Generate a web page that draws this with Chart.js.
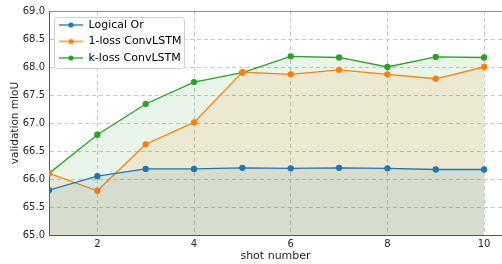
<!DOCTYPE html>
<html>
<head>
<meta charset="utf-8">
<script src="https://cdn.jsdelivr.net/npm/chart.js@4/dist/chart.umd.min.js"></script>
<style>
  html, body { margin: 0; padding: 0; background: #fff; }
  #chart { display: block; }
</style>
</head>
<body>
<canvas id="chart" width="502" height="264"></canvas>
<script>
const shots = [1, 2, 3, 4, 5, 6, 7, 8, 9, 10]
const logicalOr = [65.80, 66.05, 66.18, 66.18, 66.20, 66.19, 66.20, 66.19, 66.17, 66.17]
const oneLoss = [66.10, 65.79, 66.62, 67.01, 67.91, 67.87, 67.95, 67.87, 67.79, 68.00]
const kLoss = [66.10, 66.79, 67.34, 67.73, 67.90, 68.19, 68.17, 68.00, 68.18, 68.17]
const xTicks = [2, 4, 6, 8, 10]

const FONT = "'DejaVu Sans', sans-serif"
const LEGEND_FONT = 11
const LEGEND_PAD = 5.5

// line + dot sample for the legend, like matplotlib's
const makeLegendIcon = (color) => {
    const c = document.createElement("canvas")
    c.width = 24
    c.height = 8
    const g = c.getContext("2d")
    g.strokeStyle = color
    g.lineWidth = 1.3
    g.beginPath()
    g.moveTo(0, 4)
    g.lineTo(24, 4)
    g.stroke()
    g.fillStyle = color
    g.beginPath()
    g.arc(12, 4, 2.6, 0, Math.PI * 2)
    g.fill()
    return c
}

const series = [
    { label: "Logical Or", data: logicalOr, color: "#1f77b4", fill: "rgba(31,119,180,0.1)" },
    { label: "1-loss ConvLSTM", data: oneLoss, color: "#ff7f0e", fill: "rgba(255,127,14,0.1)" },
    { label: "k-loss ConvLSTM", data: kLoss, color: "#2ca02c", fill: "rgba(44,160,44,0.1)" }
]
const legendIcons = series.map(s => makeLegendIcon(s.color))

// move legend inside the axes and put a rounded frame behind it
const legendFrame = {
    id: "legendFrame",
    afterLayout(chart) {
        const lg = chart.legend
        if (!lg) return
        lg.left += 4.5
        lg.top += 14
        if (!lg._framed) {
            const orig = lg.draw.bind(lg)
            lg.draw = function () {
                const g = chart.ctx
                g.save()
                g.font = LEGEND_FONT + "px " + FONT
                const maxW = Math.max(...series.map(s => g.measureText(s.label).width))
                const x0 = this.left + LEGEND_PAD
                const y0 = this.top + LEGEND_PAD
                const n = series.length
                const left = x0 - 5
                const top = y0 - 3
                const right = x0 + 24 + LEGEND_FONT / 2 + maxW + 3
                const bottom = y0 + n * LEGEND_FONT + (n - 1) * LEGEND_PAD + 4
                g.fillStyle = "rgba(255,255,255,0.85)"
                g.strokeStyle = "#d0d0d0"
                g.lineWidth = 1
                g.beginPath()
                g.roundRect(Math.round(left) + 0.5, Math.round(top) + 0.5, Math.round(right - left), Math.round(bottom - top), 3)
                g.fill()
                g.stroke()
                g.restore()
                orig()
            }
            lg._framed = true
        }
    }
}

new Chart(document.getElementById("chart"), {
    type: "line",
    data: {
        datasets: series.map(s => ({
            label: s.label,
            data: shots.map((x, i) => ({ x, y: s.data[i] })),
            borderColor: s.color,
            backgroundColor: s.fill,
            pointBackgroundColor: s.color,
            pointBorderColor: s.color,
            pointRadius: 2.5,
            pointStyle: "circle",
            borderWidth: 1.3,
            fill: "start",
            tension: 0
        }))
    },
    options: {
        responsive: false,
        animation: false,
        devicePixelRatio: 1,
        layout: { autoPadding: false, padding: { top: 11, right: 0, left: 0, bottom: 0 } },
        scales: {
            x: {
                type: "linear",
                min: 1,
                max: 10.37,
                afterBuildTicks: (scale) => { scale.ticks = xTicks.map(v => ({ value: v })) },
                afterFit: (scale) => {
                    scale.height = 29
                    scale.paddingLeft = 0
                    scale.paddingRight = 0
                },
                grid: { color: "#c8c8c8", drawTicks: false, lineWidth: 1, z: -1 },
                border: { display: true, color: "#555", width: 1, dash: [4, 3] },
                ticks: { color: "#262626", font: { family: FONT, size: 10 }, padding: 3, maxRotation: 0 },
                title: { display: true, text: "shot number", color: "#262626", font: { family: FONT, size: 11 }, padding: { top: 0, bottom: 1 } }
            },
            y: {
                min: 65,
                max: 69,
                afterFit: (scale) => {
                    scale.width = 49
                    scale.paddingTop = 0
                    scale.paddingBottom = 0
                },
                grid: {
                    color: (ctx) => ctx.tick && ctx.tick.value === 69 ? "#8c8c8c" : "#c8c8c8",
                    drawTicks: false,
                    lineWidth: 1,
                    z: -1
                },
                border: {
                    display: true, color: "#555", width: 1,
                    dash: (ctx) => ctx.tick && ctx.tick.value === 69 ? [] : [4, 3]
                },
                ticks: {
                    stepSize: 0.5, color: "#262626", font: { family: FONT, size: 10 }, padding: 4,
                    callback: (v) => v.toFixed(1)
                },
                title: { display: true, text: "validation mIoU", color: "#262626", font: { family: FONT, size: 10.5 }, padding: { top: 9, bottom: 0 } }
            }
        },
        plugins: {
            legend: {
                position: "chartArea",
                align: "start",
                labels: {
                    usePointStyle: true,
                    pointStyleWidth: 24,
                    color: "#262626",
                    font: { family: FONT, size: LEGEND_FONT },
                    padding: LEGEND_PAD,
                    generateLabels: (chart) => chart.data.datasets.map((d, i) => ({
                        text: d.label,
                        pointStyle: legendIcons[i],
                        fillStyle: d.borderColor,
                        strokeStyle: d.borderColor,
                        lineWidth: 0,
                        hidden: false,
                        datasetIndex: i
                    }))
                }
            },
            tooltip: { enabled: false }
        }
    },
    plugins: [legendFrame]
})
</script>
</body>
</html>
